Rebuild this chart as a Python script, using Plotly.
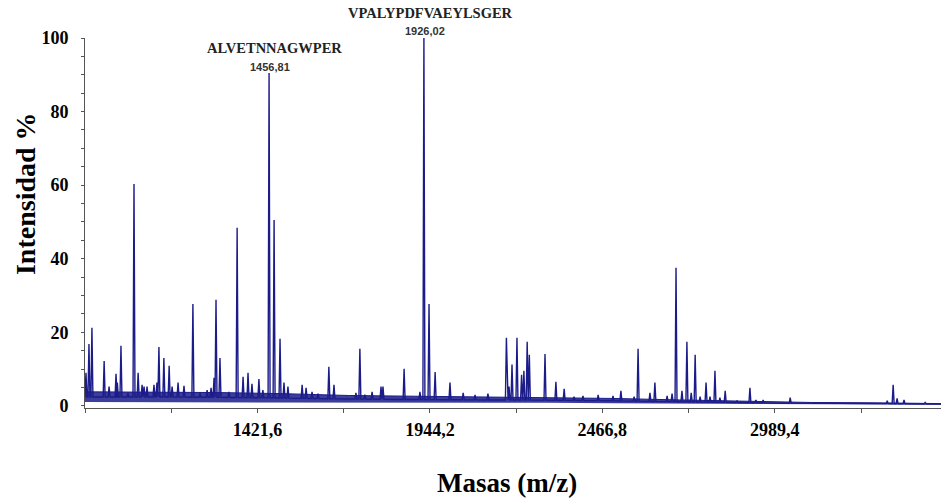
import numpy as np
import plotly.graph_objects as go

# ---- data ----
peak_mz = [902, 911, 920, 957, 972, 993, 997, 1008, 1029, 1047.5,
           1060, 1072, 1078, 1087, 1108, 1117, 1123, 1138, 1154, 1163,
           1181, 1199, 1226, 1247.5, 1269, 1281, 1290, 1296, 1308, 1335,
           1360, 1378, 1393, 1405, 1426, 1438, 1456.81, 1472, 1490, 1502,
           1514, 1557, 1569, 1587, 1605, 1638, 1653.5, 1720, 1732, 1747,
           1769, 1796, 1802, 1866, 1914, 1926.02, 1941.5, 1960, 2005, 2045,
           2081, 2120, 2176, 2184, 2193, 2208, 2222, 2229, 2239, 2245.5,
           2293, 2326, 2351, 2381, 2408, 2454, 2499, 2523, 2563, 2575,
           2611, 2626, 2663, 2678, 2690, 2708, 2723, 2736, 2748, 2763,
           2781, 2793, 2808, 2823, 2839, 2875, 2914, 2932, 2954, 3036,
           3330, 3348, 3360, 3381, 3445]
peak_int = [9.0, 16.8, 21.2, 12.2, 5.2, 8.7, 6.3, 16.3, 3.5, 60.3,
            9.0, 5.7, 5.2, 5.2, 5.7, 6.3, 16.0, 13.0, 10.9, 5.2,
            6.3, 5.4, 27.7, 3.5, 4.3, 4.9, 7.6, 28.8, 13.0, 3.8,
            48.4, 7.9, 9.0, 6.0, 7.3, 4.3, 90.5, 50.5, 18.2, 6.3,
            5.2, 5.7, 4.9, 3.8, 3.3, 10.6, 5.7, 3.5, 15.5, 3.0,
            3.8, 5.2, 5.2, 10.1, 3.8, 100.0, 27.7, 9.2, 6.3, 3.5,
            3.0, 3.3, 18.5, 5.2, 11.2, 18.5, 8.4, 9.5, 17.4, 13.9,
            14.1, 6.5, 4.6, 2.5, 2.7, 3.0, 2.7, 4.1, 2.5, 15.5,
            3.5, 6.3, 2.7, 3.3, 37.5, 4.1, 17.4, 3.5, 13.9, 2.5,
            6.3, 2.5, 9.5, 2.2, 4.1, 1.4, 4.9, 1.6, 1.6, 2.2,
            1.4, 5.7, 2.0, 1.6, 0.9]

# baseline noise envelope
base_mz = [899, 1100, 1300, 1500, 1700, 1900, 2100, 2300, 2500, 2700, 2900, 3100, 3300, 3493]
base_lo = [1.0, 1.0, 1.0, 0.9, 0.9, 0.8, 0.8, 0.8, 0.7, 0.6, 0.5, 0.4, 0.4, 0.3]
base_hi = [3.8, 3.8, 3.6, 3.3, 2.8, 2.6, 2.4, 2.3, 2.0, 1.6, 1.2, 0.9, 0.8, 0.6]

x_tickvals = [899.0, 1160.3, 1421.6, 1682.9, 1944.2, 2205.5, 2466.8, 2728.1, 2989.4, 3250.7]
x_ticktext = ["", "", "1421,6", "", "1944,2", "", "2466,8", "", "2989,4", ""]
y_tickvals = [0, 20, 40, 60, 80, 100]
y_ticktext = ["0", "20", "40", "60", "80", "100"]

label_peak = [1456.81, 1926.02]
label_mass = ["1456,81", "1926,02"]
label_pep = ["ALVETNNAGWPER", "VPALYPDFVAEYLSGER"]

x_range = [899.0, 3493.0]
y_range = [-0.6, 100]

# ---- build the spectrum line ----
navy = "#1b1b8a"
base_mid = (np.array(base_lo) + np.array(base_hi)) / 2.0
half_w = 3.0
xs, ys = [x_range[0]], [float(np.interp(x_range[0], base_mz, base_mid))]
for m, h in sorted(zip(peak_mz, peak_int)):
    b = float(np.interp(m, base_mz, base_mid))
    xs += [m - half_w, m, m + half_w]
    ys += [b, h, b]
xs.append(x_range[1])
ys.append(float(np.interp(x_range[1], base_mz, base_mid)))

fig = go.Figure()
fig.add_trace(go.Scatter(x=base_mz, y=base_lo, mode="lines", line=dict(width=0),
                         hoverinfo="skip", showlegend=False))
fig.add_trace(go.Scatter(x=base_mz, y=base_hi, mode="lines", line=dict(width=1, color=navy),
                         fill="tonexty", fillcolor="rgba(27,27,138,0.85)",
                         hoverinfo="skip", showlegend=False))
fig.add_trace(go.Scatter(x=xs, y=ys, mode="lines", line=dict(width=1.4, color=navy),
                         hoverinfo="skip", showlegend=False))

annotations = []
pep_dx = [16.2, 18.6]
pep_y = [0.973, 1.0676]
mass_dx = [2.8, 1.9]
mass_y = [0.9216, 1.0176]
for i in range(len(label_peak)):
    annotations.append(dict(x=label_peak[i] + pep_dx[i], y=pep_y[i], xref="x", yref="paper",
                            text=label_pep[i], showarrow=False, xanchor="center", yanchor="middle",
                            font=dict(family="Liberation Serif", size=14.5, color="#222222", weight="bold")))
    annotations.append(dict(x=label_peak[i] + mass_dx[i], y=mass_y[i], xref="x", yref="paper",
                            text=label_mass[i], showarrow=False, xanchor="center", yanchor="middle",
                            font=dict(family="Liberation Sans", size=11, color="#333333", weight="bold")))

annotations.append(dict(x=-0.0701, y=0.581, xref="paper", yref="paper", text="Intensidad %",
                        textangle=-90, showarrow=False, xanchor="center", yanchor="middle",
                        font=dict(family="Liberation Serif", size=28, color="black", weight="bold")))
annotations.append(dict(x=0.493, y=-0.203, xref="paper", yref="paper", text="Masas (m/z)",
                        showarrow=False, xanchor="center", yanchor="middle",
                        font=dict(family="Liberation Serif", size=27, color="black", weight="bold")))

fig.update_layout(
    width=941, height=500,
    margin=dict(l=85, r=0, t=38, b=92),
    paper_bgcolor="white", plot_bgcolor="white",
    showlegend=False,
    annotations=annotations,
    xaxis=dict(range=x_range, tickmode="array", tickvals=x_tickvals, ticktext=x_ticktext,
               showgrid=False, zeroline=False, showline=True, linecolor="#555555", linewidth=1,
               ticks="outside", ticklen=4, tickcolor="#555555", ticklabelstandoff=1,
               tickfont=dict(family="Liberation Serif", size=18, color="black", weight="bold")),
    yaxis=dict(range=y_range, tickmode="array", tickvals=y_tickvals, ticktext=y_ticktext,
               showgrid=False, zeroline=False, showline=True, linecolor="#555555", linewidth=1,
               ticks="outside", ticklen=3, tickcolor="#555555", ticklabelstandoff=9,
               minor=dict(dtick=5, ticks="outside", ticklen=3, tickcolor="#555555", showgrid=False),
               tickfont=dict(family="Liberation Serif", size=18, color="black", weight="bold")),
)

fig.write_html("out.html")
